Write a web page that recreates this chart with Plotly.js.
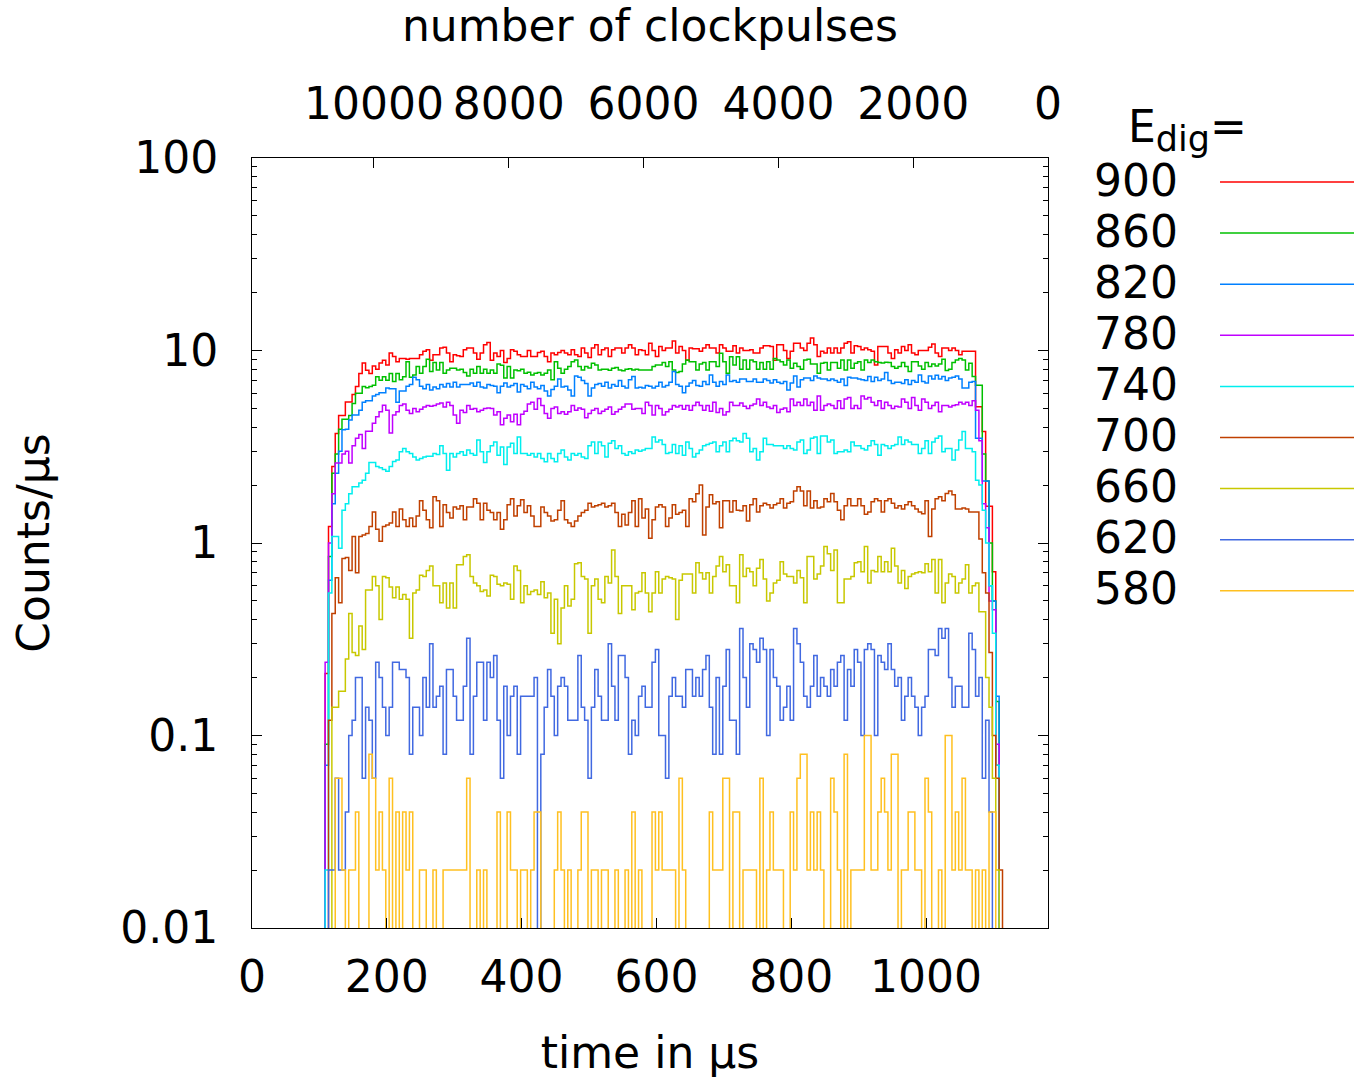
<!DOCTYPE html>
<html>
<head>
<meta charset="utf-8">
<script src="https://cdn.plot.ly/plotly-3.0.1.min.js"></script>
<style>html,body{margin:0;padding:0;background:#fff}#chart{width:1354px;height:1078px}</style>
</head>
<body>
<div id="chart"></div>
<script>
// ---------------- DATA ----------------
// histogram bins (time in µs): first bin left edge and bin width
const binStart = 108.5;
const binWidth = 5;
const energyLabels = ['900','860','820','780','740','700','660','620','580'];
const xTickVals = [0,200,400,600,800,1000];
const pulseTickVals = [0,2000,4000,6000,8000,10000];
const pulseTickText = ['0','2000','4000','6000','8000','10000'];
const yTickVals = [0.01,0.1,1,10,100];
const yTickText = ['0.01','0.1','1','10','100'];

// Counts/µs per bin, one array per E_dig
const e900 = [0.21,1.22,2.5,3.7,4.6,4.6,5.4,5.4,5.9,6.5,
7.6,8.6,7.9,7.6,8.3,8.0,8.6,8.9,8.4,9.7,
9.3,8.75,9.1,9.1,9.0,9.1,9.1,9.1,9.5,9.9,
10.1,8.9,9.5,9.5,10.3,10.4,9.7,8.75,9.5,9.4,
9.3,10.1,10.3,10.3,9.7,9.0,9.7,10.7,11.0,8.9,
9.7,9.3,10.0,8.65,9.1,10.1,9.9,9.5,9.3,9.3,
10.0,9.3,9.3,9.75,9.9,9.3,8.75,9.7,9.5,9.75,
10.0,9.7,9.5,10.1,9.5,9.3,10.3,9.7,9.2,10.3,
10.7,9.5,10.1,10.3,9.3,10.1,10.3,10.3,9.7,10.3,
10.7,10.3,9.5,10.1,10.0,9.5,10.9,10.0,9.3,10.5,
10.0,10.3,10.3,11.2,9.7,10.5,10.0,8.9,10.3,10.2,
10.2,9.9,10.3,10.7,10.3,10.3,9.7,10.7,10.3,9.9,
9.9,10.6,9.7,10.3,10.0,10.0,10.1,9.7,9.7,10.3,
10.6,10.6,10.5,8.9,10.7,10.7,10.0,9.1,9.9,10.9,
10.9,10.3,10.0,10.9,11.6,10.7,9.3,9.9,9.7,10.3,
9.7,10.3,9.7,10.3,10.9,11.1,9.7,10.6,10.5,10.1,
10.3,10.1,9.9,8.4,10.5,10.5,10.5,9.7,9.1,10.1,
9.7,10.5,10.0,10.7,9.7,9.5,10.0,10.0,10.0,10.4,
10.8,9.7,9.3,10.3,10.3,10.0,10.3,10.0,9.5,9.9,
9.9,9.9,9.9,5.1,5.1,3.8,1.55,1.55,0.71,0.07,
0];
const e860 = [0.09,0.85,2.3,2.9,3.9,4.4,4.4,4.6,5.3,6.0,
6.0,6.5,6.4,6.5,6.6,7.3,7.0,7.3,7.0,7.6,
6.9,7.6,7.05,7.3,8.75,7.27,7.47,8.25,7.62,8.25,
9.0,7.77,8.65,7.93,8.65,7.62,7.93,8.09,8.09,7.93,
7.99,7.68,7.38,7.99,7.62,8.25,7.62,7.99,7.62,7.93,
7.62,8.52,8.39,7.19,8.25,7.19,7.93,7.85,8.0,7.62,
7.7,7.47,7.62,7.68,7.47,7.62,7.93,7.05,8.75,8.09,
7.62,7.99,8.25,8.75,8.93,8.25,7.93,8.25,8.1,8.58,
8.42,7.93,8.0,7.99,7.9,8.09,8.15,7.93,7.85,7.99,
8.05,7.93,7.99,7.93,7.93,7.93,7.93,8.25,8.42,8.42,
8.65,8.25,8.75,7.93,7.68,7.77,8.52,8.93,8.75,8.75,
7.93,8.52,8.65,7.93,8.75,8.75,8.25,9.67,8.75,7.62,
9.29,8.42,9.29,7.99,8.93,7.99,8.93,8.75,7.99,8.65,
7.99,8.75,7.99,9.1,8.93,8.75,8.42,8.93,8.09,8.58,
8.25,7.99,8.93,9.0,8.52,8.52,7.62,8.58,8.65,7.93,
8.65,8.65,8.09,8.93,7.93,8.93,8.09,8.58,8.75,7.93,
8.93,8.65,8.93,8.75,8.65,8.6,8.7,8.65,8.25,8.09,
8.25,8.65,8.25,7.77,8.75,8.75,8.32,7.99,8.65,8.25,
8.52,8.32,8.52,9.0,7.87,7.99,8.65,8.93,9.1,8.93,
7.93,8.58,7.33,6.6,6.6,2.9,2.1,1.0,0.5,0.15,
0];
const e820 = [0.07,0.64,1.6,2.3,3.0,3.88,3.9,4.36,4.62,4.62,
4.9,5.38,5.48,5.48,5.81,5.9,6.04,6.04,6.39,6.32,
6.32,5.38,6.16,6.16,6.52,6.65,7.27,7.05,6.52,6.32,
6.65,6.23,6.47,6.32,6.65,6.47,6.73,6.47,6.83,6.47,
6.65,6.65,6.65,6.78,6.52,6.83,6.47,6.39,6.65,6.57,
6.52,6.04,6.52,6.78,6.47,6.57,6.73,6.09,6.65,6.52,
6.32,6.83,6.47,6.32,6.57,6.16,5.81,6.28,6.52,7.11,
6.47,6.52,6.23,5.81,7.38,7.27,6.99,6.73,5.81,6.39,
6.65,6.73,6.52,6.83,6.39,6.65,6.52,6.99,6.52,6.39,
7.05,7.33,6.39,6.45,6.39,6.57,6.52,6.39,6.52,6.83,
6.47,6.57,6.83,7.77,6.65,6.52,6.04,6.52,6.78,6.99,
6.57,6.52,6.91,6.65,7.47,6.83,6.52,6.91,6.65,7.47,
6.91,6.99,6.83,7.11,7.11,6.91,6.91,7.11,6.83,6.83,
7.11,6.99,6.78,7.05,6.83,6.73,6.91,6.23,6.78,7.38,
6.47,7.05,7.19,7.19,6.99,7.38,7.19,7.11,7.11,6.99,
7.11,6.99,6.83,7.11,6.57,7.27,7.19,7.19,7.11,7.05,
6.99,7.33,6.91,7.27,6.99,7.11,7.68,6.99,6.73,6.83,
6.83,6.73,7.05,6.65,6.99,6.83,7.47,6.91,6.78,7.38,
7.11,7.43,7.11,7.33,6.99,7.19,7.27,7.38,7.11,6.39,
6.39,6.83,6.91,3.5,3.5,2.1,2.1,0.6,0.5,0.16,
0];
const e780 = [0.24,1.0,1.8,2.6,2.6,2.9,3.0,2.6,3.2,3.5,
3.66,3.1,3.81,3.81,4.19,4.53,4.8,5.2,4.89,3.73,
4.62,4.8,5.18,5.28,4.89,4.71,4.99,4.8,4.95,5.08,
5.18,5.14,5.18,5.28,5.34,5.08,5.38,5.18,4.62,4.19,
4.89,4.76,5.18,4.95,4.99,4.8,4.89,4.99,5.03,4.99,
4.62,4.8,4.11,4.45,4.62,4.27,4.66,4.11,4.66,4.84,
5.28,5.38,4.95,5.63,5.18,4.71,4.45,4.99,5.08,4.71,
4.8,4.66,4.8,5.18,4.89,5.03,4.95,4.48,4.71,4.89,
4.99,4.71,4.84,4.95,5.08,4.66,4.8,4.95,5.08,5.28,
5.28,4.95,4.99,4.99,4.71,5.38,5.18,4.62,5.18,4.99,
4.62,4.8,4.95,5.18,5.08,5.18,4.95,5.18,4.89,5.18,
5.38,5.18,4.89,5.18,4.84,5.38,4.76,4.99,4.62,4.8,
5.38,5.18,5.18,5.34,5.14,4.99,5.18,5.28,5.59,5.18,
5.38,5.08,4.99,5.18,4.76,4.95,5.03,4.8,5.59,5.18,
5.38,5.18,5.59,5.18,5.38,4.89,5.81,4.89,5.18,5.28,
5.18,4.99,5.48,4.99,5.59,5.70,4.99,5.18,4.99,5.81,
5.59,5.70,5.38,5.18,5.48,4.99,5.38,5.18,4.99,5.14,
5.08,5.59,5.38,4.99,5.70,5.18,4.89,5.59,5.38,4.99,
5.18,5.38,4.8,5.18,5.18,5.08,5.18,5.22,5.38,5.28,
5.38,5.18,5.48,4.9,3.4,1.6,1.2,0.5,0.45,0.09,
0];
const e740 = [0.02,0.55,1.08,1.08,0.94,1.48,1.6,1.8,1.96,1.96,
2.05,2.12,2.3,2.62,2.62,2.5,2.46,2.41,2.36,2.5,
2.65,2.7,2.98,3.1,2.98,2.92,2.8,2.7,2.75,2.8,
2.82,2.82,2.92,2.88,3.2,2.92,2.39,2.92,2.8,2.92,
2.98,2.86,3.04,2.92,2.86,3.43,2.98,2.62,2.98,3.2,
3.35,2.86,3.15,2.56,3.15,3.3,2.92,3.55,2.92,2.92,
2.86,2.92,2.8,2.92,2.75,2.64,2.92,2.75,2.64,2.92,
3.04,2.8,2.7,2.92,2.86,2.92,2.8,2.75,3.2,3.35,
2.92,3.35,3.2,2.8,3.3,3.4,3.1,3.2,2.92,2.86,
2.98,2.92,3.04,3.0,3.04,3.1,3.1,3.55,3.35,3.43,
3.25,2.92,2.95,3.25,2.92,3.2,2.86,3.35,3.1,2.8,
2.92,3.04,3.2,3.25,3.3,3.35,2.98,3.2,3.35,2.98,
3.4,3.5,3.4,3.35,3.7,3.5,2.98,3.1,2.7,2.98,
3.5,3.25,3.25,3.2,3.2,3.2,3.1,3.2,3.1,3.04,
3.35,3.43,2.92,3.04,3.5,3.55,2.92,3.6,3.6,3.35,
3.43,2.92,2.98,2.98,3.04,2.98,3.35,3.2,3.2,3.1,
3.04,3.2,3.4,3.25,2.86,3.25,3.2,3.1,3.2,3.25,
3.55,3.25,3.43,3.35,3.25,3.25,2.92,3.1,3.4,2.92,
3.35,3.5,3.6,2.98,3.1,3.1,2.7,3.04,3.43,3.8,
3.1,3.1,2.98,2.12,2.0,1.48,1.0,0.6,0.34,0.07,
0];
const e700 = [0,0.12,0.43,0.66,0.49,0.83,0.84,0.72,1.08,0.7,
1.08,1.1,1.12,1.22,1.45,1.18,1.02,1.22,1.24,1.27,
1.45,1.22,1.5,1.32,1.22,1.35,1.22,1.38,1.66,1.48,
1.32,1.2,1.74,1.66,1.22,1.58,1.44,1.35,1.54,1.5,
1.56,1.32,1.54,1.54,1.7,1.61,1.32,1.61,1.48,1.44,
1.32,1.44,1.18,1.32,1.58,1.7,1.38,1.56,1.68,1.44,
1.56,1.38,1.22,1.22,1.54,1.44,1.38,1.3,1.32,1.48,
1.66,1.32,1.27,1.22,1.3,1.38,1.44,1.48,1.61,1.54,
1.56,1.58,1.61,1.54,1.56,1.61,1.44,1.22,1.41,1.24,
1.44,1.66,1.22,1.7,1.35,1.5,1.06,1.32,1.54,1.58,
1.54,1.22,1.35,1.58,1.41,1.44,1.48,1.22,1.7,1.64,
1.8,2.0,1.1,1.54,1.78,1.6,1.64,1.2,1.66,1.66,
1.45,1.66,1.48,1.47,1.56,1.3,1.58,1.7,1.45,1.56,
1.61,1.58,1.52,1.58,1.61,1.7,1.52,1.61,1.64,1.86,
1.96,1.86,1.56,1.86,1.52,1.66,1.52,1.54,1.7,1.64,
1.81,1.64,1.48,1.32,1.56,1.7,1.56,1.56,1.7,1.56,
1.41,1.45,1.64,1.7,1.66,1.45,1.66,1.7,1.61,1.52,
1.56,1.5,1.58,1.64,1.56,1.5,1.45,1.42,1.66,1.08,
1.5,1.7,1.74,1.66,1.81,1.86,1.78,1.5,1.5,1.52,
1.5,1.45,1.45,1.45,1.05,0.7,0.55,0.27,0.1,0.06,
0.02];
const e660 = [0,0,0.14,0.14,0.17,0.17,0.25,0.43,0.27,0.26,
0.37,0.28,0.57,0.57,0.67,0.6,0.4,0.67,0.66,0.59,
0.52,0.59,0.51,0.54,0.51,0.32,0.55,0.57,0.68,0.67,
0.72,0.76,0.6,0.6,0.49,0.62,0.46,0.62,0.46,0.77,
0.77,0.85,0.87,0.67,0.62,0.6,0.56,0.57,0.53,0.68,
0.67,0.61,0.6,0.62,0.61,0.51,0.76,0.72,0.49,0.6,
0.54,0.56,0.57,0.54,0.63,0.52,0.55,0.34,0.51,0.3,
0.46,0.6,0.47,0.51,0.78,0.79,0.67,0.65,0.34,0.6,
0.65,0.51,0.49,0.67,0.62,0.92,0.67,0.43,0.6,0.6,
0.6,0.45,0.55,0.56,0.7,0.55,0.44,0.55,0.71,0.55,
0.65,0.67,0.66,0.65,0.4,0.64,0.69,0.69,0.69,0.55,
0.79,0.7,0.65,0.7,0.55,0.67,0.76,0.85,0.71,0.77,
0.6,0.6,0.49,0.87,0.67,0.74,0.71,0.6,0.74,0.82,
0.65,0.5,0.55,0.62,0.64,0.8,0.69,0.67,0.67,0.62,
0.72,0.66,0.49,0.85,0.85,0.65,0.69,0.76,0.96,0.88,
0.72,0.92,0.49,0.49,0.65,0.65,0.67,0.79,0.8,0.71,
0.96,0.62,0.72,0.71,0.85,0.71,0.8,0.71,0.94,0.76,
0.62,0.72,0.58,0.67,0.69,0.7,0.71,0.7,0.78,0.71,
0.82,0.55,0.82,0.49,0.62,0.69,0.67,0.55,0.62,0.65,
0.77,0.55,0.6,0.62,0.44,0.44,0.2,0.14,0.06,0.02,
0];
const e620 = [0,0.02,0.02,0.06,0.02,0.02,0.04,0.1,0.12,0.2,
0.2,0.06,0.14,0.12,0.06,0.24,0.2,0.14,0.1,0.14,
0.24,0.24,0.22,0.22,0.2,0.08,0.14,0.14,0.1,0.2,
0.14,0.3,0.14,0.16,0.18,0.08,0.22,0.22,0.16,0.12,
0.12,0.18,0.32,0.08,0.16,0.24,0.24,0.12,0.24,0.2,
0.26,0.12,0.06,0.18,0.1,0.16,0.18,0.08,0.16,0.16,
0.16,0.16,0.2,0,0.08,0.14,0.22,0.16,0.1,0.18,
0.2,0.18,0.12,0.12,0.12,0.26,0.14,0.12,0.06,0.14,
0.22,0.16,0.12,0.12,0.3,0.18,0.12,0.26,0.26,0.2,
0.08,0.12,0.1,0.16,0.18,0.14,0.14,0.24,0.28,0.1,
0.1,0.06,0.16,0.2,0.16,0.16,0.14,0.22,0.22,0.16,
0.2,0.16,0.22,0.26,0.14,0.08,0.2,0.08,0.18,0.28,
0.12,0.12,0.08,0.36,0.2,0.14,0.3,0.28,0.24,0.32,
0.28,0.1,0.28,0.2,0.18,0.12,0.14,0.18,0.12,0.36,
0.3,0.24,0.16,0.14,0.18,0.26,0.16,0.2,0.18,0.16,
0.22,0.18,0.24,0.26,0.12,0.22,0.18,0.28,0.24,0.1,
0.28,0.3,0.28,0.1,0.26,0.24,0.22,0.3,0.22,0.18,
0.2,0.12,0.16,0.2,0.16,0.14,0.1,0.14,0.16,0.28,
0.28,0.26,0.36,0.32,0.36,0.2,0.14,0.18,0.18,0.14,
0.14,0.34,0.28,0.16,0.2,0.06,0.12,0.04,0,0,
0];
const e580 = [0,0,0,0.06,0.06,0.02,0,0.02,0.02,0.04,
0,0,0,0.08,0.06,0.02,0.04,0.02,0,0.06,
0,0.04,0,0.04,0.02,0.04,0,0,0.02,0.02,
0,0,0.02,0,0,0.02,0.02,0.02,0.02,0.02,
0.02,0.02,0.06,0,0,0.02,0,0.02,0,0,
0,0.04,0,0,0.04,0.02,0.02,0,0.02,0.02,
0,0.02,0.04,0.04,0,0,0,0,0.02,0.04,
0.02,0,0.02,0,0,0.02,0.04,0.04,0,0.02,
0.02,0,0.02,0.02,0,0,0.02,0,0,0.02,
0,0.04,0,0.02,0,0,0,0.04,0.02,0.04,
0.02,0.02,0.02,0.02,0,0.06,0.02,0,0,0,
0,0,0,0,0.04,0.02,0.02,0.02,0.06,0.06,
0,0.04,0.04,0,0.02,0.02,0.02,0.02,0,0.06,
0,0.02,0.04,0.02,0.02,0.02,0,0,0.04,0.02,
0.06,0.08,0.08,0.02,0.04,0.02,0.04,0.02,0,0,
0.06,0.04,0.02,0,0.08,0,0.02,0.02,0.02,0.02,
0.1,0.1,0.02,0.02,0.04,0.06,0.04,0.02,0.08,0.08,
0,0.02,0.02,0.04,0.04,0.02,0.02,0,0.06,0.04,
0,0,0.02,0,0.1,0.1,0.02,0.04,0.02,0.06,
0.02,0.02,0,0.02,0,0.02,0,0.04,0.04,0,
0];
const seriesValues = [e900,e860,e820,e780,e740,e700,e660,e620,e580];

// ---------------- STYLE ----------------
const colors = ['#ff0000','#00c000','#0080ff','#c000ff','#00eeee','#c04000','#c8c800','#4169e1','#ffc020'];
const FONT = {family:'DejaVu Sans, sans-serif', size:44, color:'#000'};
const LOG_FLOOR = 1e-4; // empty bins drawn below the visible range (log scale)
const plotL = 252, plotR = 1048, plotT = 158, plotB = 928, W = 1354, H = 1078;
const px2paperX = px => (px - plotL) / (plotR - plotL);
const px2paperY = py => (plotB - py) / (plotB - plotT);

function stepTrace(vals, color, name){
  const x = [binStart], y = [LOG_FLOOR];
  vals.forEach((v, i) => { x.push(binStart + i*binWidth); y.push(v > 0 ? v : LOG_FLOOR); });
  const end = binStart + vals.length*binWidth;
  const last = vals[vals.length-1];
  x.push(end); y.push(last > 0 ? last : LOG_FLOOR);
  x.push(end); y.push(LOG_FLOOR);
  return {type:'scatter', mode:'lines', x:x, y:y, name:name,
    line:{shape:'hv', color:color, width:1.5, simplify:false},
    showlegend:false, hoverinfo:'skip'};
}
const traces = seriesValues.map((vals, k) => stepTrace(vals, colors[k], energyLabels[k]));
// invisible carrier so the top (clockpulse) axis is rendered
traces.push({type:'scatter', mode:'markers', x:[pulseTickVals[0]], y:[yTickVals[2]],
  xaxis:'x2', yaxis:'y', marker:{opacity:0, size:1}, showlegend:false, hoverinfo:'skip'});

const minorVals = [];
[0.01,0.1,1,10].forEach(d => { for (let m = 2; m <= 9; m++) minorVals.push(+(d*m).toPrecision(3)); });

// key (gnuplot-style: label left, line sample right)
const annotations = [{
  xref:'paper', yref:'paper', x:px2paperX(1126), y:px2paperY(130),
  xanchor:'left', yanchor:'middle', showarrow:false,
  text:'E<sub><span style="font-size:35px">dig</span></sub>=', font:FONT
}];
const shapes = [];
energyLabels.forEach((lab, k) => {
  const yc = 182 + 51.1*k;
  annotations.push({xref:'paper', yref:'paper', x:px2paperX(1180), y:px2paperY(yc-2),
    xanchor:'right', yanchor:'middle', showarrow:false, text:lab, font:FONT});
  shapes.push({type:'line', xref:'paper', yref:'paper', x0:px2paperX(1220), x1:px2paperX(W+2),
    y0:px2paperY(yc), y1:px2paperY(yc), line:{color:colors[k], width:1.5}});
});

const layout = {
  width:W, height:H,
  margin:{l:plotL, r:W-plotR, t:plotT, b:H-plotB, pad:0},
  paper_bgcolor:'#fff', plot_bgcolor:'#fff',
  font:FONT, showlegend:false, hovermode:false,
  xaxis:{range:[0,1181], tickmode:'array', tickvals:xTickVals, tickangle:0,
    ticks:'inside', ticklen:10, tickwidth:1, tickcolor:'#000',
    showline:true, linecolor:'#000', linewidth:1, mirror:true,
    showgrid:false, zeroline:false, automargin:false, ticklabelstandoff:10,
    title:{text:'time in µs', font:FONT, standoff:36}},
  xaxis2:{overlaying:'x', side:'top', anchor:'y', range:[11810,0], tickmode:'array',
    tickvals:pulseTickVals, ticktext:pulseTickText, tickangle:0, ticks:'inside', ticklen:10, tickwidth:1, tickcolor:'#000',
    showline:false, showgrid:false, zeroline:false, automargin:false, ticklabelstandoff:29,
    title:{text:'number of clockpulses', font:FONT, standoff:24}},
  yaxis:{type:'log', range:[-2,2], tickmode:'array', tickvals:yTickVals, ticktext:yTickText,
    ticks:'inside', ticklen:10, tickwidth:1, tickcolor:'#000',
    showline:true, linecolor:'#000', linewidth:1, mirror:'ticks',
    showgrid:false, zeroline:false, automargin:false, ticklabelstandoff:24,
    minor:{tickmode:'array', tickvals:minorVals, ticks:'inside', ticklen:5, tickwidth:1, tickcolor:'#000', showgrid:false},
    title:{text:'Counts/µs', font:FONT, standoff:56}},
  annotations:annotations, shapes:shapes
};

Plotly.newPlot('chart', traces, layout, {staticPlot:true, displayModeBar:false});
</script>
</body>
</html>
